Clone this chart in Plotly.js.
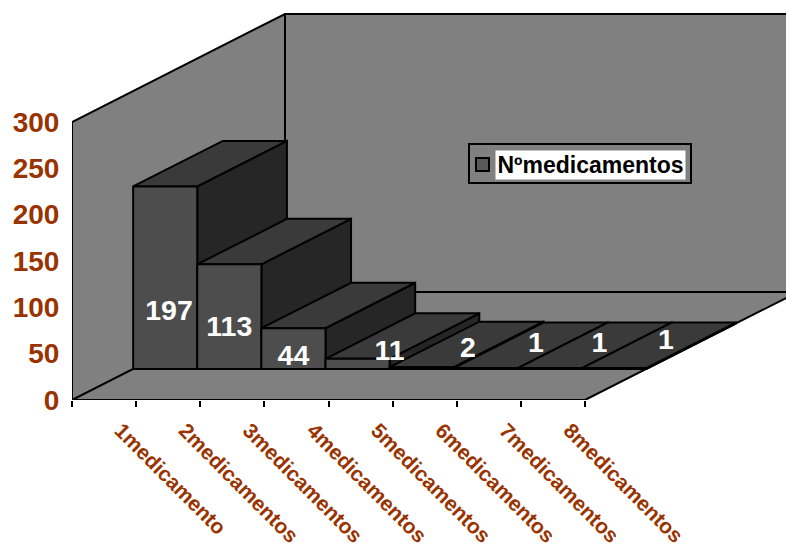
<!DOCTYPE html>
<html>
<head>
<meta charset="utf-8">
<script src="https://cdn.plot.ly/plotly-3.0.1.min.js"></script>
<style>
html, body { margin: 0; padding: 0; background: #fff; overflow: hidden; }
#chart { width: 786px; height: 546px; }
</style>
</head>
<body>
<div id="chart"></div>
<script>
// Patients by number of medicines taken
const categories = ['1medicamento', '2medicamentos', '3medicamentos', '4medicamentos',
                    '5medicamentos', '6medicamentos', '7medicamentos', '8medicamentos'];
const counts = [197, 113, 44, 11, 2, 1, 1, 1];
const valueTicks = [0, 50, 100, 150, 200, 250, 300];
const seriesName = 'Nºmedicamentos';

// Where each value label sits relative to the front of its column, in axis units
const labelShiftX = [0.06, 0, 0, 0.5, 0.72, 0.78, 0.77, 0.81];
const labelShiftY = [60.6, 43, 12, 17.4, 20.7, 26, 26, 29];

// Page geometry, in pixels
const W = 786, H = 546;
const M = { l: 72, r: 0, t: 13, b: 146 };
const PX_PER_CATEGORY = 64.125, PX_PER_VALUE = 278 / 300;

// Oblique projection: depth 0 is the front of the floor, depth 1 the back wall
const DEPTH_X = 213 / PX_PER_CATEGORY, DEPTH_Y = 108 / PX_PER_VALUE;
const MAX_VALUE = 300, N = categories.length;
const BAR_FRONT = 0.287, BAR_BACK = 0.708;
const project = (cat, depth, value) => [cat + depth * DEPTH_X, value + depth * DEPTH_Y];

const COL = {
  wall: '#808080', front: '#4d4d4d', top: '#3a3a3a', side: '#262626',
  line: '#000000', text: '#993300'
};

function face(points, fill) {
  const xy = points.concat([points[0]]).map(p => project(p[0], p[1], p[2]));
  return {
    type: 'scatter', mode: 'lines', x: xy.map(p => p[0]), y: xy.map(p => p[1]),
    fill: 'toself', fillcolor: fill, cliponaxis: false, hoverinfo: 'skip', showlegend: false,
    line: { color: COL.line, width: 2, simplify: false }
  };
}

const traces = [];

// Left wall, back wall and floor
traces.push(face([[0, 0, 0], [0, 1, 0], [0, 1, MAX_VALUE], [0, 0, MAX_VALUE]], COL.wall));
traces.push(face([[0, 1, 0], [N, 1, 0], [N, 1, MAX_VALUE], [0, 1, MAX_VALUE]], COL.wall));
traces.push(face([[0, 0, 0], [N, 0, 0], [N, 1, 0], [0, 1, 0]], COL.wall));

// Columns, left to right so each one covers the side of its neighbour
counts.forEach((v, i) => {
  const a = i, b = i + 1;
  traces.push(face([[b, BAR_FRONT, 0], [b, BAR_BACK, 0], [b, BAR_BACK, v], [b, BAR_FRONT, v]], COL.side));
  traces.push(face([[a, BAR_FRONT, v], [b, BAR_FRONT, v], [b, BAR_BACK, v], [a, BAR_BACK, v]], COL.top));
  traces.push(face([[a, BAR_FRONT, 0], [b, BAR_FRONT, 0], [b, BAR_FRONT, v], [a, BAR_FRONT, v]], COL.front));
});

// Value labels
traces.push({
  type: 'scatter', mode: 'text', cliponaxis: false, hoverinfo: 'skip', showlegend: false,
  x: counts.map((v, i) => project(i + 0.5, BAR_FRONT, 0)[0] + labelShiftX[i]),
  y: counts.map((v, i) => project(i + 0.5, BAR_FRONT, 0)[1] + labelShiftY[i]),
  text: counts.map(String), textposition: 'middle center',
  textfont: { family: 'Liberation Sans, Arial, sans-serif', size: 28.5, color: '#ffffff', weight: 700 }
});

const paperX = px => (px - M.l) / (W - M.l - M.r);
const paperY = py => 1 - (py - M.t) / (H - M.t - M.b);

const layout = {
  width: W, height: H, margin: M, showlegend: false,
  paper_bgcolor: '#ffffff', plot_bgcolor: 'rgba(0,0,0,0)',
  font: { family: 'Liberation Sans, Arial, sans-serif' },
  xaxis: {
    range: [0, (W - M.l - M.r) / PX_PER_CATEGORY], showgrid: false, zeroline: false, showline: false,
    tickmode: 'array', tickvals: categories.map((c, i) => i + 0.76), ticktext: categories,
    tickangle: 45, ticks: 'outside', ticklen: 9, tickcolor: 'rgba(0,0,0,0)',
    tickfont: { size: 21, color: COL.text, weight: 700 },
    minor: { ticks: 'outside', ticklen: 6, tickwidth: 2, tickcolor: COL.line,
             tickmode: 'array', tickvals: categories.map((c, i) => i).concat([N]), showgrid: false }
  },
  yaxis: {
    range: [0, (H - M.t - M.b) / PX_PER_VALUE], showgrid: false, zeroline: false, showline: false,
    tickmode: 'array', tickvals: valueTicks, ticks: 'outside', ticklen: 6, tickcolor: 'rgba(0,0,0,0)',
    tickfont: { size: 28, color: COL.text, weight: 700 }
  },
  // Legend frame and swatch
  shapes: [
    { type: 'rect', xref: 'paper', yref: 'paper', x0: paperX(469), x1: paperX(691), y0: paperY(144), y1: paperY(183),
      fillcolor: COL.wall, line: { color: COL.line, width: 2 } },
    { type: 'rect', xref: 'paper', yref: 'paper', x0: paperX(476), x1: paperX(489), y0: paperY(158), y1: paperY(171),
      fillcolor: '#595959', line: { color: COL.line, width: 2 } }
  ],
  annotations: [{
    xref: 'paper', yref: 'paper', x: paperX(590.5), y: paperY(164.5), xanchor: 'center', yanchor: 'middle',
    text: seriesName, showarrow: false, bgcolor: '#ffffff', borderpad: 0,
    width: 189, height: 28, align: 'center',
    font: { family: 'Liberation Sans, Arial, sans-serif', size: 23, color: '#000000', weight: 700 }
  }]
};

Plotly.newPlot('chart', traces, layout, { displayModeBar: false, staticPlot: true });
</script>
</body>
</html>
